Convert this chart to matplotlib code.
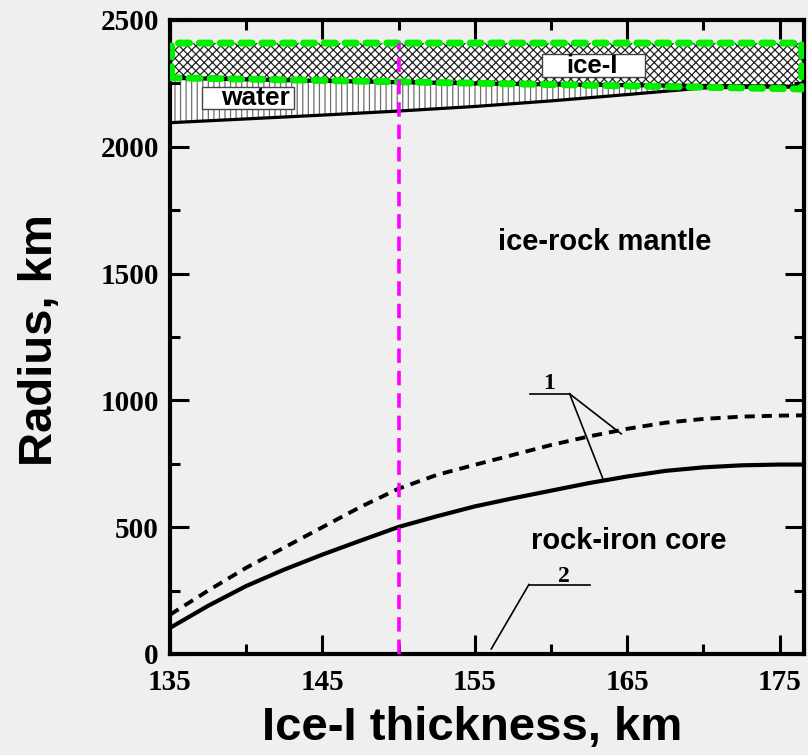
import numpy as np
import matplotlib.pyplot as plt
from matplotlib.ticker import FixedLocator, MultipleLocator
from matplotlib.patches import Rectangle

plt.rcParams['font.family'] = 'Liberation Serif'
plt.rcParams['font.weight'] = 'bold'
plt.rcParams['hatch.linewidth'] = 0.9

# ice-I thickness, km
thick = [135, 137.5, 140, 142.5, 145, 147.5, 150, 152.5, 155, 157.5,
         160, 162.5, 165, 167.5, 170, 172.5, 175, 176.6]
# core radius, km (1 - dashed, 2 - solid)
core_1 = [155, 250, 340, 420, 500, 580, 652, 706, 746, 785,
          824, 858, 888, 912, 927, 936, 940, 941]
core_2 = [103, 190, 268, 333, 392, 447, 501, 543, 582, 614,
          644, 674, 700, 722, 736, 744, 747, 747]

# layer boundaries
thick_layer = [135, 140, 145, 150, 155, 160, 165, 170, 175, 176.6]
ice_bottom = [2272, 2266, 2260, 2255, 2250, 2246, 2243, 2240, 2237.5, 2237]
water_bottom = [2095, 2110, 2125, 2141, 2159, 2181, 2206, 2232, 2237.5, 2237]
ice_top = 2409

# green outline of the ice-I shell
green_x = [135.1, 135.1, 176.45, 176.45, 135.1]
green_r = [2272, 2409, 2409, 2228, 2272]

x_mark = 150  # chosen thickness

fig = plt.figure(figsize=(8.08, 7.55), dpi=100, facecolor='#efefef')
ax = fig.add_axes([170/808, 1-654/755, 634/808, 634/755])
ax.set_facecolor('#efefef')

# water and ice-I layers
ax.fill_between(thick_layer, water_bottom, ice_bottom, facecolor='white',
                edgecolor='#6f6f6f', hatch='|||', linewidth=0, zorder=1)
ax.fill_between(thick_layer, ice_bottom, ice_top, facecolor='white',
                edgecolor='#222222', hatch='xxxx', linewidth=0, zorder=1)
ax.plot(thick_layer, water_bottom, color='k', lw=2.3, zorder=3)
ax.plot(thick_layer, ice_bottom, color='k', lw=3, zorder=3)
ax.plot(green_x, green_r, color='#00ee00', lw=5, linestyle=(0, (1.6, 1.4)),
        dash_capstyle='round', zorder=4)

# core curves
ax.plot(thick, core_1, color='k', lw=2.8, linestyle=(0, (2.6, 1.8)), zorder=3)
ax.plot(thick, core_2, color='k', lw=3, zorder=3)

ax.vlines(x_mark, 0, ice_top, color='#ff00ff', lw=2.6,
          linestyle=(0, (4, 2.2)), zorder=5)

# labels inside the plot
ax.add_patch(Rectangle((137.1, 2148), 6.05, 89, facecolor='white',
                       edgecolor='#444444', lw=1, zorder=6))
ax.text(140.6, 2192, 'water', family='Liberation Sans', fontsize=19,
        ha='center', va='center', zorder=7)
ax.add_patch(Rectangle((159.44, 2274), 6.7, 91, facecolor='white',
                       edgecolor='#444444', lw=1, zorder=6))
ax.text(162.7, 2318, 'ice-I', family='Liberation Sans', fontsize=18.5,
        ha='center', va='center', zorder=7)
ax.text(163.5, 1626, 'ice-rock mantle', family='Liberation Sans', fontsize=21,
        ha='center', va='center')
ax.text(165.1, 444, 'rock-iron core', family='Liberation Sans', fontsize=21,
        ha='center', va='center')

# leader lines for curve numbers
ax.plot([158.6, 161.22], [1026, 1026], color='k', lw=1.2)
ax.plot([161.22, 164.61], [1026, 868], color='k', lw=1.2)
ax.plot([161.22, 163.45], [1026, 684], color='k', lw=1.2)
ax.text(159.9, 1068, '1', fontsize=17, ha='center', va='center')
ax.plot([158.55, 162.55], [274, 274], color='k', lw=1.2)
ax.plot([158.55, 156.08], [274, 20], color='k', lw=1.2)
ax.text(160.84, 306, '2', fontsize=17, ha='center', va='center')

ax.set_xlim(135, 176.6)
ax.set_ylim(0, 2500)
ax.xaxis.set_major_locator(FixedLocator([135, 145, 155, 165, 175]))
ax.xaxis.set_minor_locator(FixedLocator([140, 150, 160, 170]))
ax.yaxis.set_major_locator(MultipleLocator(500))
ax.yaxis.set_minor_locator(MultipleLocator(250))
ax.tick_params(which='both', direction='in', top=True, right=True,
               width=2.2, labelsize=21)
ax.tick_params(which='major', length=14)
ax.tick_params(which='minor', length=7)
ax.tick_params(axis='x', pad=11)
ax.tick_params(axis='y', pad=8)
for s in ax.spines.values():
    s.set_linewidth(3)

ax.set_xlabel('Ice-I thickness, km', family='Liberation Sans', fontsize=34,
              fontweight='bold', va='top')
ax.xaxis.set_label_coords(0.476, -0.082)
ax.set_ylabel('Radius, km', family='Liberation Sans', fontsize=34,
              fontweight='bold')
ax.yaxis.set_label_coords(-0.170, 0.4945)

plt.savefig('out.png', dpi=100, facecolor=fig.get_facecolor())
